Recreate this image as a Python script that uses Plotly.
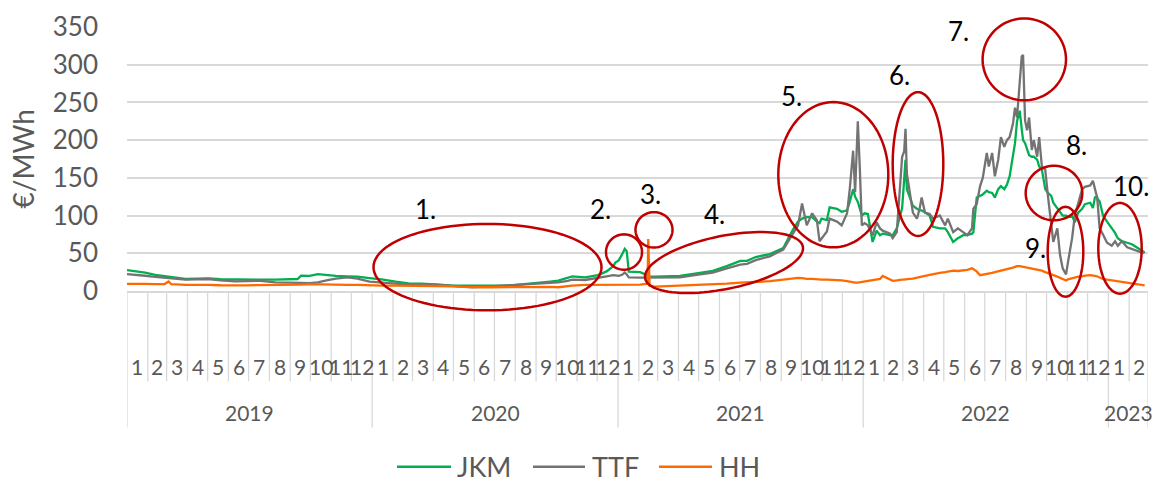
import numpy as np
import pandas as pd
import plotly.graph_objects as go

# ---- data: daily gas hub prices, €/MWh (sampled) ----
dates = [
    "2019-01-01", "2019-01-15", "2019-01-28", "2019-02-12", "2019-02-26", "2019-03-04", "2019-03-08",
    "2019-03-29", "2019-04-15", "2019-05-02", "2019-05-20", "2019-06-11", "2019-06-28", "2019-07-15",
    "2019-08-10", "2019-08-25", "2019-09-12", "2019-09-17", "2019-09-30", "2019-10-12", "2019-10-25",
    "2019-11-08", "2019-11-25", "2019-12-10", "2019-12-28",
    "2020-01-15", "2020-02-05", "2020-02-24", "2020-03-15", "2020-03-30", "2020-04-15", "2020-04-29",
    "2020-05-14", "2020-05-29", "2020-06-14", "2020-06-28", "2020-07-22", "2020-08-05", "2020-08-16",
    "2020-09-10", "2020-09-22", "2020-10-04", "2020-10-18", "2020-10-25", "2020-11-13", "2020-12-02",
    "2020-12-15", "2020-12-25", "2020-12-28",
    "2021-01-02", "2021-01-07", "2021-01-11", "2021-01-14", "2021-01-17", "2021-02-03", "2021-02-12",
    "2021-02-14", "2021-02-15", "2021-02-17", "2021-02-25", "2021-03-15", "2021-04-03", "2021-04-28",
    "2021-05-22", "2021-06-12", "2021-07-02", "2021-07-12", "2021-07-25", "2021-08-15", "2021-09-04",
    "2021-09-17", "2021-09-26", "2021-10-02", "2021-10-09", "2021-10-17", "2021-10-24", "2021-10-28",
    "2021-10-31", "2021-11-08", "2021-11-12", "2021-11-23", "2021-11-30", "2021-12-08", "2021-12-12",
    "2021-12-17", "2021-12-20", "2021-12-24", "2021-12-27", "2021-12-30",
    "2022-01-03", "2022-01-08", "2022-01-15", "2022-01-21", "2022-01-26", "2022-01-30", "2022-02-10",
    "2022-02-14", "2022-02-20", "2022-02-24", "2022-02-28", "2022-03-03", "2022-03-05", "2022-03-07",
    "2022-03-11", "2022-03-16", "2022-03-22", "2022-03-26", "2022-03-29", "2022-04-03", "2022-04-10",
    "2022-04-15", "2022-04-25", "2022-05-03", "2022-05-07", "2022-05-15", "2022-05-22", "2022-05-30",
    "2022-06-05", "2022-06-12", "2022-06-14", "2022-06-19", "2022-06-24", "2022-06-28", "2022-07-04",
    "2022-07-07", "2022-07-12", "2022-07-16", "2022-07-21", "2022-07-25", "2022-07-30", "2022-08-03",
    "2022-08-07", "2022-08-12", "2022-08-15", "2022-08-18", "2022-08-22", "2022-08-25", "2022-08-27",
    "2022-08-30", "2022-09-02", "2022-09-05", "2022-09-09", "2022-09-12", "2022-09-17", "2022-09-20",
    "2022-09-24", "2022-09-29", "2022-10-03", "2022-10-08", "2022-10-11", "2022-10-17", "2022-10-21",
    "2022-10-25", "2022-10-30", "2022-11-02", "2022-11-08", "2022-11-12", "2022-11-17", "2022-11-23",
    "2022-11-27", "2022-12-05", "2022-12-09", "2022-12-12", "2022-12-15", "2022-12-16", "2022-12-19",
    "2022-12-24", "2022-12-30",
    "2023-01-06", "2023-01-11", "2023-01-15", "2023-01-21", "2023-01-29", "2023-02-05", "2023-02-12",
    "2023-02-20", "2023-02-24",
]

jkm = [
    27.6, 26.0, 24.5, 21.5, 19.5, 18.8, 18.2,
    15.9, 16.3, 16.7, 15.6, 15.0, 14.6, 15.0,
    15.0, 15.4, 15.9, 20.2, 20.0, 22.4, 21.0,
    20.0, 19.5, 19.0, 17.2,
    15.5, 12.5, 10.2, 9.8, 9.4, 8.2, 7.2,
    7.0, 7.2, 7.0, 7.2, 7.2, 8.2, 9.4,
    11.5, 12.5, 13.7, 17.0, 19.3, 18.0, 21.0,
    26.0, 33.0, 37.6,
    40.6, 48.5, 55.8, 52.8, 25.8, 25.0, 22.0,
    21.0, 20.0, 19.5, 19.0, 19.5, 20.0, 23.5,
    26.7, 33.0, 40.0, 40.0, 45.0, 49.0, 57.0,
    79.0, 92.0, 96.0, 98.0, 98.0, 92.0, 90.0,
    96.0, 94.0, 111.0, 109.0, 105.0, 107.0, 118.0,
    135.0, 125.0, 118.0, 109.0, 100.0,
    103.0, 102.0, 65.0, 80.0, 74.0, 76.0, 74.0,
    74.0, 83.0, 96.0, 110.0, 148.0, 174.0, 135.0,
    124.0, 113.0, 109.0, 107.0, 107.0, 104.0, 100.0,
    85.0, 83.0, 83.0, 78.0, 65.0, 70.0, 74.0,
    74.0, 76.0, 78.0, 124.0, 126.0, 128.0, 133.0,
    131.0, 130.0, 124.0, 135.0, 139.0, 135.0, 141.0,
    152.0, 183.0, 196.0, 225.0, 239.0, 215.0, 200.0,
    196.0, 187.0, 180.0, 178.0, 178.0, 174.0, 165.0,
    161.0, 135.0, 130.0, 126.0, 117.0, 109.0, 104.0,
    100.0, 100.0, 98.0, 100.0, 91.0, 104.0, 109.0,
    115.0, 117.0, 110.0, 124.0, 125.0, 122.0, 119.0,
    100.0, 92.0,
    83.0, 77.0, 70.0, 66.0, 64.0, 62.0, 58.0,
    53.0, 51.0,
]

ttf = [
    22.4, 21.5, 20.2, 18.6, 17.3, 16.8, 16.4,
    15.0, 15.3, 15.9, 14.0, 12.8, 13.2, 13.7,
    11.5, 10.9, 10.7, 10.8, 10.5, 11.5, 14.0,
    16.5, 18.0, 16.5, 12.5,
    11.5, 10.0, 8.5, 8.7, 8.9, 7.8, 7.2,
    5.8, 5.0, 5.6, 6.3, 7.2, 7.8, 8.5,
    10.3, 11.0, 11.5, 13.5, 15.0, 14.6, 18.0,
    19.5, 21.0, 20.5,
    20.0, 21.5, 24.5, 22.0, 18.0, 17.6, 17.6,
    17.8, 18.0, 18.0, 18.5, 18.2, 18.0, 21.5,
    24.5, 30.0, 35.0, 36.0, 41.0, 46.0, 55.0,
    74.0, 87.0, 116.0, 87.0, 103.0, 94.0, 66.0,
    70.0, 79.0, 96.0, 92.0, 87.0, 103.0, 135.0,
    186.0, 131.0, 225.0, 162.0, 87.0,
    90.0, 87.0, 74.0, 91.0, 83.0, 80.0, 76.0,
    70.0, 78.0, 122.0, 178.0, 185.0, 215.0, 156.0,
    130.0, 104.0, 96.0, 109.0, 124.0, 104.0, 102.0,
    96.0, 100.0, 87.0, 96.0, 78.0, 83.0, 78.0,
    74.0, 83.0, 109.0, 115.0, 139.0, 150.0, 183.0,
    165.0, 183.0, 152.0, 174.0, 204.0, 191.0, 200.0,
    204.0, 222.0, 243.0, 230.0, 270.0, 311.0, 313.0,
    226.0, 213.0, 230.0, 187.0, 200.0, 178.0, 204.0,
    165.0, 161.0, 126.0, 91.0, 65.0, 83.0, 48.0,
    30.0, 22.0, 39.0, 70.0, 100.0, 117.0, 135.0,
    138.0, 140.0, 146.0, 135.0, 125.0, 117.0, 83.0,
    75.0, 64.0,
    60.0, 66.0, 60.0, 66.0, 58.0, 56.0, 53.0,
    51.0, 51.0,
]

hh = [
    9.4, 9.6, 9.4, 9.0, 9.2, 12.6, 9.0,
    8.0, 8.2, 8.0, 7.6, 7.2, 7.5, 7.8,
    7.8, 7.6, 8.2, 8.5, 9.2, 8.8, 8.5,
    8.0, 8.2, 8.0, 7.2,
    7.2, 7.0, 7.0, 6.6, 6.3, 6.3, 6.3,
    5.6, 5.0, 5.0, 5.0, 5.3, 5.6, 5.9,
    6.3, 5.6, 5.0, 6.5, 7.2, 8.0, 8.0,
    7.8, 7.5, 7.5,
    7.5, 7.8, 8.0, 8.0, 8.0, 8.5, 9.4,
    9.8, 68.8, 7.0, 5.9, 6.5, 7.0, 7.8,
    8.5, 9.8, 11.0, 11.5, 12.2, 13.0, 15.0,
    17.0, 17.5, 17.0, 16.0, 16.0, 15.0, 15.0,
    15.0, 15.0, 15.0, 15.0, 14.0, 13.0, 12.0,
    11.0, 11.0, 11.0, 11.5, 12.0,
    13.0, 13.5, 15.0, 15.5, 16.0, 20.0, 15.0,
    13.5, 14.0, 15.0, 15.0, 15.0, 15.5, 16.0,
    16.0, 16.5, 18.0, 18.5, 19.0, 20.0, 21.5,
    22.5, 24.0, 25.0, 26.0, 27.0, 26.5, 27.5,
    28.0, 30.0, 29.0, 26.0, 21.0, 21.5, 22.0,
    23.0, 24.0, 25.0, 26.0, 27.0, 28.0, 29.0,
    30.0, 31.0, 32.0, 33.0, 33.0, 32.5, 32.0,
    31.0, 31.0, 30.0, 30.0, 29.0, 28.0, 27.5,
    27.0, 25.0, 24.0, 22.0, 21.0, 19.0, 17.5,
    15.0, 14.0, 15.5, 17.0, 18.0, 19.0, 19.5,
    20.5, 21.0, 21.0, 20.0, 19.5, 19.0, 18.0,
    16.0, 15.0,
    14.0, 13.5, 13.0, 12.5, 11.5, 10.5, 9.0,
    8.0, 7.5,
]

years = ["2019", "2020", "2021", "2022", "2023"]
series_names = ["JKM", "TTF", "HH"]
series_colors = ["#00B050", "#737373", "#FF6A00"]

# ---- geometry of the page ----
W, H = 1158, 482
L, R, T, B = 127, 10, 22, 191
PW, PH = W - L - R, H - T - B
FONT = "Lato"
TXT = "#595959"


def px(x):
    return (x - L) / PW


def py(y):
    return (T + PH - y) / PH


fig = go.Figure()
for name, vals, col in zip(series_names, [jkm, ttf, hh], series_colors):
    fig.add_trace(go.Scatter(
        x=pd.to_datetime(dates), y=vals, mode="lines", name=name,
        line=dict(color=col, width=2.3), showlegend=False,
    ))

shapes = []
annotations = []

# two-level category axis: month separators and year separators
month_starts = pd.date_range("2019-01-01", "2023-03-01", freq="MS")
for d in month_starts:
    full = d.month == 1 or d == month_starts[0] or d == month_starts[-1]
    shapes.append(dict(
        type="line", xref="x", yref="paper", x0=d, x1=d, y0=0,
        y1=py(430) if full else py(383),
        line=dict(color="#D9D9D9", width=1.3), layer="below",
    ))
for a, b in zip(month_starts[:-1], month_starts[1:]):
    annotations.append(dict(
        x=a + (b - a) / 2, y=py(368), xref="x", yref="paper", text=str(a.month),
        showarrow=False, font=dict(family=FONT, size=21, color=TXT),
        xanchor="center", yanchor="middle",
    ))
for yr in years:
    start = pd.Timestamp(f"{yr}-01-01")
    end = min(pd.Timestamp(f"{int(yr) + 1}-01-01"), month_starts[-1])
    annotations.append(dict(
        x=start + (end - start) / 2, y=py(415), xref="x", yref="paper", text=yr,
        showarrow=False, font=dict(family=FONT, size=21, color=TXT),
        xanchor="center", yanchor="middle",
    ))

# highlighted episodes: ellipses and their numbers
def ellipse_path(cx, cy, a, b, ang):
    t = np.linspace(0, 2 * np.pi, 97)
    th = np.radians(ang)
    xs = cx + a * np.cos(t) * np.cos(th) - b * np.sin(t) * np.sin(th)
    ys = cy - (a * np.cos(t) * np.sin(th) + b * np.sin(t) * np.cos(th))
    pts = [f"{px(x):.5f},{py(y):.5f}" for x, y in zip(xs, ys)]
    return "M" + " L".join(pts) + " Z"


ellipses = [
    (487.5, 266.7, 114, 44, 0),
    (624, 251.3, 18, 18, 0),
    (654, 228.7, 18.5, 18, 0),
    (724, 262, 80.5, 27, 11.7),
    (833.3, 172.5, 55, 74, 0),
    (918, 161.7, 25.3, 73.3, 0),
    (1024.3, 55, 41.7, 41.7, 0),
    (1054, 191.2, 28.3, 27.8, 0),
    (1065.5, 251, 17.8, 45.8, 0),
    (1120, 247.5, 21.7, 46.2, 0),
]
for e in ellipses:
    shapes.append(dict(type="path", xref="paper", yref="paper", path=ellipse_path(*e),
                       line=dict(color="#C00000", width=2.5), layer="above"))

labels = [("1.", 425, 207), ("2.", 600, 207), ("3.", 650, 192), ("4.", 714, 213),
          ("5.", 791, 92), ("6.", 899, 71), ("7.", 958, 26), ("8.", 1076, 142),
          ("9.", 1035, 247), ("10.", 1131, 184)]
for txt, x, y in labels:
    annotations.append(dict(x=px(x), y=py(y), xref="paper", yref="paper", text=txt,
                            showarrow=False, font=dict(family=FONT, size=26, color="#000000"),
                            xanchor="center", yanchor="middle"))

# y-axis title
annotations.append(dict(x=px(23), y=py(157), xref="paper", yref="paper", text="€/MWh",
                        textangle=-90, showarrow=False,
                        font=dict(family=FONT, size=28, color=TXT),
                        xanchor="center", yanchor="middle"))

# legend
legend_pos = [(397, 451, 455), (533, 585, 590), (659, 712, 717)]
for (x0, x1, xt), name, col in zip(legend_pos, series_names, series_colors):
    shapes.append(dict(type="line", xref="paper", yref="paper", x0=px(x0), x1=px(x1),
                       y0=py(470), y1=py(470), line=dict(color=col, width=2.5)))
    annotations.append(dict(x=px(xt), y=py(470), xref="paper", yref="paper", text=name,
                            showarrow=False, font=dict(family=FONT, size=27, color=TXT),
                            xanchor="left", yanchor="middle"))

fig.update_layout(
    width=W, height=H,
    margin=dict(l=L, r=R, t=T, b=B),
    paper_bgcolor="white", plot_bgcolor="white",
    shapes=shapes, annotations=annotations,
    xaxis=dict(type="date", range=["2019-01-01", "2023-03-01"], showticklabels=False,
               showgrid=False, zeroline=False, showline=True, linecolor="#D9D9D9",
               linewidth=1.5, ticks=""),
    yaxis=dict(range=[0, 350], dtick=50, showgrid=True, gridcolor="#D9D9D9", gridwidth=1.5,
               zeroline=False, showline=False, ticks="",
               tickfont=dict(family=FONT, size=26, color=TXT), ticklabelstandoff=28),
)

fig.write_html("out.html")
